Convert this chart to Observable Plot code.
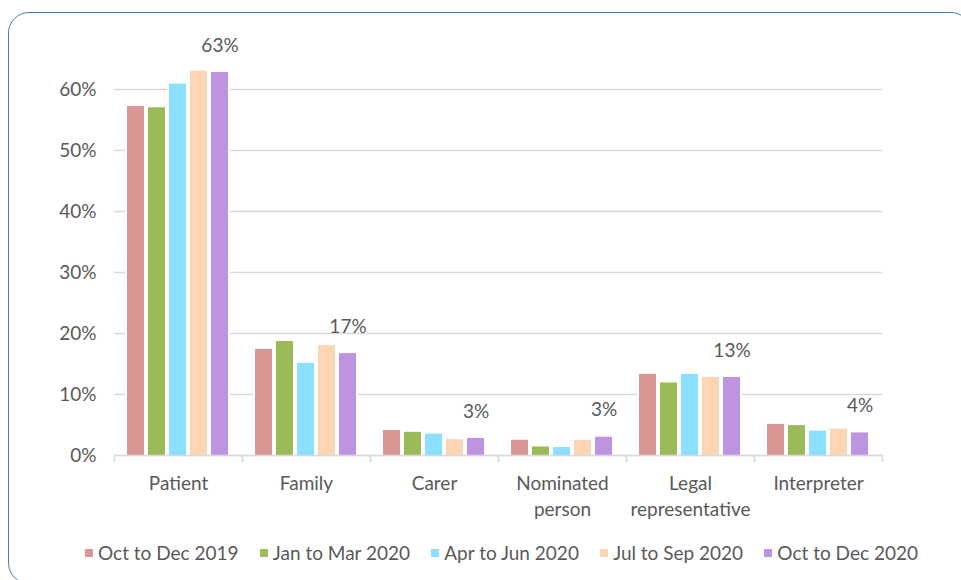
<!DOCTYPE html>
<html>
<head>
<meta charset="utf-8">
<script src="https://cdn.jsdelivr.net/npm/d3@7"></script>
<script src="https://cdn.jsdelivr.net/npm/@observablehq/plot@0.6"></script>
<style>
  html, body { margin: 0; padding: 0; background: #fff; overflow: hidden; }
  #wrap { position: relative; width: 961px; height: 580px; overflow: hidden; font-family: Lato, "Liberation Sans", sans-serif; color: #595959; }
  #border { position: absolute; left: 8px; top: 12px; width: 964px; height: 572px; border: 1.5px solid #4a7ebb; border-radius: 21px; box-sizing: border-box; }
  #chart { position: absolute; left: 0; top: 0; }
  #legend { position: absolute; left: 85px; top: 541px; width: 833px; display: flex; justify-content: space-between; align-items: center; font-size: 19px; white-space: nowrap; }
  .item { display: flex; align-items: center; }
  .sw { width: 8px; height: 8px; margin-right: 5px; display: inline-block; }
</style>
</head>
<body>
<div id="wrap">
  <div id="border"></div>
  <div id="chart"></div>
  <div id="legend"></div>
</div>
<script>
const categories = ["Patient", "Family", "Carer", "Nominated person", "Legal representative", "Interpreter"];
const categoryLabels = ["Patient", "Family", "Carer", "Nominated\nperson", "Legal\nrepresentative", "Interpreter"];
const series = ["Oct to Dec 2019", "Jan to Mar 2020", "Apr to Jun 2020", "Jul to Sep 2020", "Oct to Dec 2020"];
const oct2019 = [0.572, 0.174, 0.041, 0.025, 0.133, 0.051];
const jan2020 = [0.570, 0.187, 0.038, 0.014, 0.119, 0.049];
const apr2020 = [0.609, 0.151, 0.035, 0.013, 0.133, 0.040];
const jul2020 = [0.630, 0.180, 0.026, 0.025, 0.128, 0.043];
const oct2020 = [0.628, 0.167, 0.028, 0.030, 0.128, 0.037];
const colors = ["#d99694", "#9bbb59", "#8ae0fd", "#fcd5b4", "#bf93e0"];
const yTicks = [0, 0.1, 0.2, 0.3, 0.4, 0.5, 0.6];
const labelSeries = "Oct to Dec 2020";

const seriesValues = [oct2019, jan2020, apr2020, jul2020, oct2020];
const rows = [];
categories.forEach((c, i) => {
  series.forEach((s, j) => rows.push({category: c, series: s, value: seriesValues[j][i]}));
});
const labelRows = rows.filter(d => d.series === labelSeries);

const font = "Lato, 'Liberation Sans', sans-serif";
const grey = "#595959";
const lineCol = "#d9d9d9";

const chart = Plot.plot({
  width: 961,
  height: 580,
  marginLeft: 113,
  marginRight: 79,
  marginTop: 28,
  marginBottom: 125,
  style: {fontFamily: font, fontSize: "19px", color: grey, background: "transparent"},
  fx: {domain: categories, padding: 0, label: null},
  x: {domain: series, paddingInner: 0.18, paddingOuter: 0.585, axis: null},
  y: {domain: [0, 0.7], axis: null},
  color: {domain: series, range: colors},
  marks: [
    Plot.gridY(yTicks, {stroke: lineCol, strokeOpacity: 1, strokeWidth: 1.5}),
    Plot.barY(rows, {fx: "category", x: "series", y: "value", fill: "white", insetLeft: -2, insetRight: -2}),
    Plot.barY(rows, {fx: "category", x: "series", y: "value", fill: "series"}),
    Plot.ruleY([0], {stroke: lineCol, strokeWidth: 1.5}),
    Plot.frame({anchor: "left", stroke: lineCol, strokeWidth: 1.5, insetTop: 427, insetBottom: -6}),
    Plot.frame({anchor: "right", stroke: lineCol, strokeWidth: 1.5, insetTop: 427, insetBottom: -6}),
    Plot.axisY(yTicks, {tickFormat: d3.format(".0%"), tickSize: 0, tickPadding: 18, fontSize: 19, fill: grey, label: null}),
    Plot.axisFx({anchor: "bottom", tickSize: 0, tickPadding: 16, fontSize: 19, fill: grey, lineHeight: 1.37, label: null,
      tickFormat: d => categoryLabels[categories.indexOf(d)]}),
    Plot.text(labelRows, {fx: "category", x: "series", y: "value", text: d => d3.format(".0%")(d.value), dy: -27, fontSize: 19, fill: grey})
  ]
});
document.getElementById("chart").appendChild(chart);

const legend = document.getElementById("legend");
series.forEach((s, i) => {
  const item = document.createElement("div");
  item.className = "item";
  const sw = document.createElement("span");
  sw.className = "sw";
  sw.style.background = colors[i];
  const t = document.createElement("span");
  t.textContent = s;
  item.appendChild(sw);
  item.appendChild(t);
  legend.appendChild(item);
});
</script>
</body>
</html>
